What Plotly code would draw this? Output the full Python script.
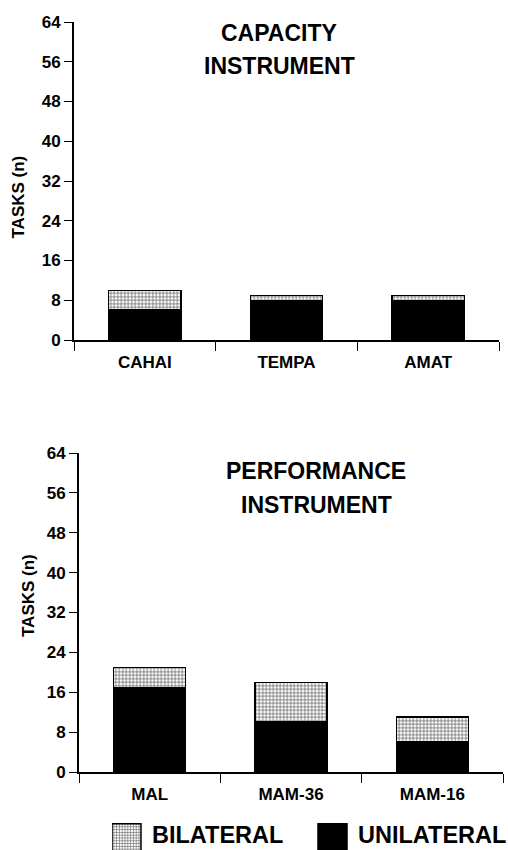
import plotly.graph_objects as go

# ---- data ----
capacity_instruments = ["CAHAI", "TEMPA", "AMAT"]
capacity_unilateral = [6, 8, 8]
capacity_bilateral = [4, 1, 1]

performance_instruments = ["MAL", "MAM-36", "MAM-16"]
performance_unilateral = [17, 10, 6]
performance_bilateral = [4, 8, 5]

y_ticks = [0, 8, 16, 24, 32, 40, 48, 56, 64]

FONT = "Liberation Sans, Arial, sans-serif"
W, H = 508, 850

bil_pattern = dict(shape="+", size=3.5, solidity=0.42, fgcolor="#6e6e6e",
                   bgcolor="white", fillmode="replace")

fig = go.Figure()

def add_panel(cats, uni, bil, xa, ya, show):
    fig.add_trace(go.Bar(x=cats, y=uni, name="UNILATERAL", xaxis=xa, yaxis=ya,
                         marker=dict(color="black", line=dict(color="black", width=1.5)),
                         width=0.51, showlegend=show, legendgroup="u"))
    fig.add_trace(go.Bar(x=cats, y=bil, name="BILATERAL", xaxis=xa, yaxis=ya,
                         marker=dict(color="white", pattern=bil_pattern,
                                     line=dict(color="black", width=1.5)),
                         width=0.51, showlegend=show, legendgroup="b"))

add_panel(capacity_instruments, capacity_unilateral, capacity_bilateral, "x", "y", True)
add_panel(performance_instruments, performance_unilateral, performance_bilateral, "x2", "y2", False)

tickfont = dict(family=FONT, size=17, color="black", weight="bold")

def xaxis(domain, anchor):
    return dict(domain=domain, anchor=anchor, type="category", range=[-0.5, 2.5],
                showline=True, linecolor="black", linewidth=1.8,
                ticks="outside", tickson="boundaries", ticklen=9, tickwidth=1.2,
                tickcolor="black", tickfont=tickfont, ticklabelstandoff=6,
                showgrid=False, zeroline=False, fixedrange=True, automargin=False)

def yaxis(domain, anchor):
    return dict(domain=domain, anchor=anchor, range=[0, 64], tickmode="array",
                tickvals=y_ticks, ticktext=[str(v) for v in y_ticks],
                showline=True, linecolor="black", linewidth=1.8,
                ticks="outside", ticklen=8, tickwidth=1.2, tickcolor="black",
                tickfont=tickfont, showgrid=False, zeroline=False, fixedrange=True,
                automargin=False)

def px(x):
    return x / W

def py(y):
    return 1 - y / H

annotations = []
def title(text, x, y, size=23):
    annotations.append(dict(text=text, x=px(x), y=py(y), xref="paper", yref="paper",
                            showarrow=False, xanchor="center", yanchor="middle",
                            font=dict(family=FONT, size=size, color="black", weight="bold")))

title("CAPACITY", 279, 33)
title("INSTRUMENT", 279, 66)
title("PERFORMANCE", 316, 471)
title("INSTRUMENT", 316, 505)

for x, y in [(18.5, 197), (28, 596)]:
    annotations.append(dict(text="TASKS (n)", x=px(x), y=py(y), xref="paper", yref="paper",
                            showarrow=False, textangle=-90, xanchor="center", yanchor="middle",
                            font=dict(family=FONT, size=17, color="black", weight="bold")))

fig.update_layout(
    width=W, height=H, margin=dict(l=0, r=0, t=0, b=0, pad=0, autoexpand=False),
    paper_bgcolor="white", plot_bgcolor="white", barmode="stack",
    xaxis=xaxis([px(74), px(499)], "y"),
    yaxis=yaxis([py(340), py(22)], "x"),
    xaxis2=xaxis([px(79), px(503)], "y2"),
    yaxis2=yaxis([py(772), py(453)], "x2"),
    annotations=annotations,
    showlegend=True,
    legend=dict(orientation="h", traceorder="reversed", x=px(112), xanchor="left",
                y=py(834), yanchor="middle", bgcolor="rgba(0,0,0,0)",
                font=dict(family=FONT, size=23.5, color="black", weight="bold"),
                entrywidth=161, entrywidthmode="pixels"),
)

post = """
document.documentElement.style.margin='0';
document.documentElement.style.overflow='hidden';
document.body.style.margin='0';
document.body.style.padding='0';
document.body.style.overflow='hidden';
document.querySelectorAll('.legendpoints path').forEach(function(p){
  p.setAttribute('d','M9,20H-20V-10H9Z');
});
"""
fig.write_html("out.html", post_script=post, config={"displayModeBar": False})
